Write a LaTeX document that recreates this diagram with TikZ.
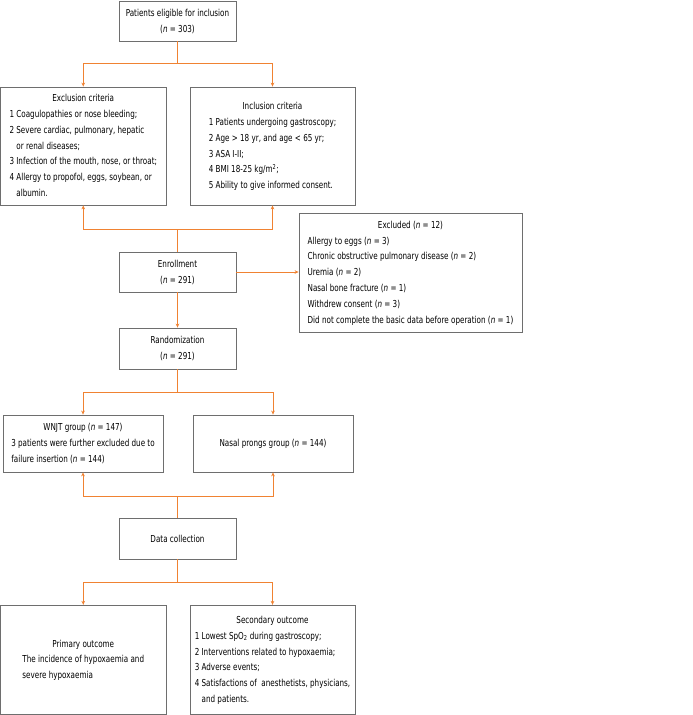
\documentclass[tikz,border=0pt]{standalone}
\usepackage{fontspec}
\setmainfont{DejaVu Sans}[FakeStretch=0.75]
\usetikzlibrary{arrows.meta}
\definecolor{connc}{RGB}{240,130,50}
\definecolor{boxgray}{RGB}{110,110,110}
\begin{document}
\begin{tikzpicture}[x=1pt,y=-1pt,
  box/.style={draw=boxgray,line width=0.8pt,inner sep=0pt,font=\fontsize{9.6}{15.8}\selectfont},
  conline/.style={draw=connc,line width=0.7pt},
  arr/.style={conline,-{Stealth[length=4pt,width=3.6pt]}}]
\useasboundingbox (0,0) rectangle (693,715);
% boxes
\node[box,minimum width=117pt,minimum height=40pt] (elig) at (177.5,21)
  {\begin{tabular}{@{}c@{}}Patients eligible for inclusion\\(\textit{n} = 303)\end{tabular}};
\node[box,minimum width=165.5pt,minimum height=118pt] (excl) at (83.25,146)
  {\begin{tabular}{@{}l@{}}\multicolumn{1}{@{}c@{}}{Exclusion criteria}\\
  1 Coagulopathies or nose bleeding;\\
  2 Severe cardiac, pulmonary, hepatic\\
  \phantom{2 }or renal diseases;\\
  3 Infection of the mouth, nose, or throat;\\
  4 Allergy to propofol, eggs, soybean, or\\
  \phantom{4 }albumin.\end{tabular}};
\node[box,minimum width=165pt,minimum height=118pt] (incl) at (272.5,146)
  {\begin{tabular}{@{}l@{}}\multicolumn{1}{@{}c@{}}{Inclusion criteria}\\
  1 Patients undergoing gastroscopy;\\
  2 Age > 18 yr, and age < 65 yr;\\
  3 ASA I-II;\\
  4 BMI 18-25 kg/m\textsuperscript{2};\\
  5 Ability to give informed consent.\end{tabular}};
\node[box,minimum width=117pt,minimum height=40pt] (enroll) at (177.5,272)
  {\begin{tabular}{@{}c@{}}Enrollment\\(\textit{n} = 291)\end{tabular}};
\node[box,minimum width=223pt,minimum height=119pt] (excluded) at (410.5,272.5)
  {\begin{tabular}{@{}l@{}}\multicolumn{1}{@{}c@{}}{Excluded (\textit{n} = 12)}\\
  Allergy to eggs (\textit{n} = 3)\\
  Chronic obstructive pulmonary disease (\textit{n} = 2)\\
  Uremia (\textit{n} = 2)\\
  Nasal bone fracture (\textit{n} = 1)\\
  Withdrew consent (\textit{n} = 3)\\
  Did not complete the basic data before operation (\textit{n} = 1)\end{tabular}};
\node[box,minimum width=117pt,minimum height=41pt] (rand) at (177.5,348.5)
  {\begin{tabular}{@{}c@{}}Randomization\\(\textit{n} = 291)\end{tabular}};
\node[box,minimum width=160pt,minimum height=57pt] (wnjt) at (83,443.5)
  {\begin{tabular}{@{}l@{}}\multicolumn{1}{@{}c@{}}{WNJT group (\textit{n} = 147)}\\
  3 patients were further excluded due to\\
  failure insertion (\textit{n} = 144)\end{tabular}};
\node[box,minimum width=160pt,minimum height=57pt] (nasal) at (273,443.5)
  {Nasal prongs group (\textit{n} = 144)};
\node[box,minimum width=117pt,minimum height=41pt] (data) at (177.5,538.5)
  {Data collection};
\node[box,minimum width=165.5pt,minimum height=109pt] (prim) at (83.25,659.75)
  {\begin{tabular}{@{}l@{}}\multicolumn{1}{@{}c@{}}{Primary outcome}\\
  The incidence of hypoxaemia and\\
  severe hypoxaemia\end{tabular}};
\node[box,minimum width=165pt,minimum height=109pt] (sec) at (272.5,659.75)
  {\begin{tabular}{@{}l@{}}\multicolumn{1}{@{}c@{}}{Secondary outcome}\\
  1 Lowest SpO\textsubscript{2} during gastroscopy;\\
  2 Interventions related to hypoxaemia;\\
  3 Adverse events;\\
  4 Satisfactions of~ anesthetists, physicians,\\
  \phantom{4 }and patients.\end{tabular}};
% junctions
\coordinate (j1) at (177.5,63);
\coordinate (j2) at (177.5,229);
\coordinate (j3) at (177.5,392);
\coordinate (j4) at (177.5,496);
\coordinate (j5) at (177.5,582);
% connectors
\draw[conline] (elig.south) -- (j1);
\draw[arr] (j1) -| (excl.north);
\draw[arr] (j1) -| (incl.north);
\draw[conline] (enroll.north) -- (j2);
\draw[arr] (j2) -| (excl.south);
\draw[arr] (j2) -| (incl.south);
\draw[arr] (enroll.east) -- (enroll.east -| excluded.west);
\draw[arr] (enroll.south) -- (rand.north);
\draw[conline] (rand.south) -- (j3);
\draw[arr] (j3) -| (wnjt.north);
\draw[arr] (j3) -| (nasal.north);
\draw[conline] (data.north) -- (j4);
\draw[arr] (j4) -| (wnjt.south);
\draw[arr] (j4) -| (nasal.south);
\draw[conline] (data.south) -- (j5);
\draw[arr] (j5) -| (prim.north);
\draw[arr] (j5) -| (sec.north);
\end{tikzpicture}
\end{document}
